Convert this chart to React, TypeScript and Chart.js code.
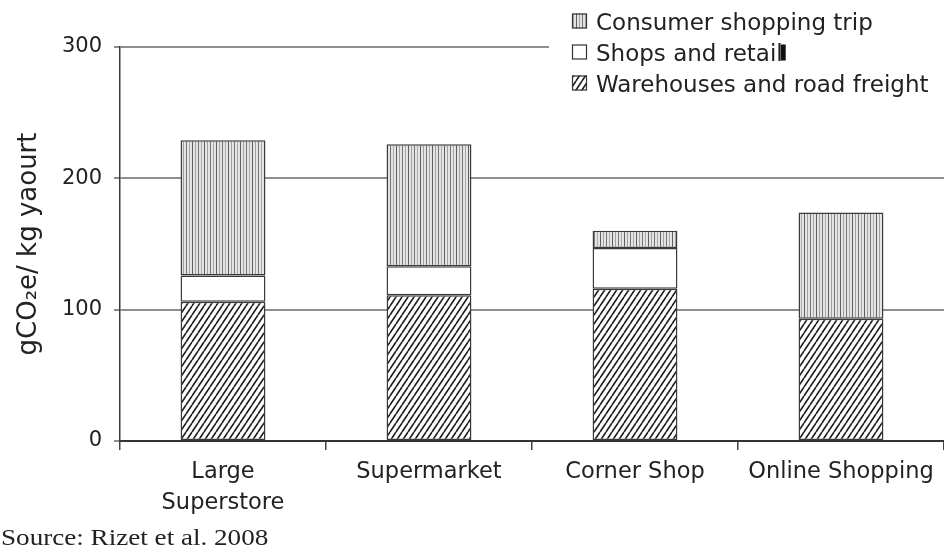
import React, { useEffect, useRef } from 'react';
import { Chart, registerables } from 'chart.js';

Chart.register(...registerables);

const categories: (string | string[])[] = [['Large', 'Superstore'], 'Supermarket', 'Corner Shop', 'Online Shopping'];
const warehouses = [106, 111, 116, 93];
const shops = [20, 22, 31, 0];
const consumer = [103, 93, 13, 81];
const seriesNames = ['Warehouses and road freight', 'Shops and retail', 'Consumer shopping trip'];
const legendOrder = ['Consumer shopping trip', 'Shops and retail', 'Warehouses and road freight'];
const yMin = 0;
const yMax = 300;
const yStep = 100;
const yTitle = 'gCO₂e/ kg yaourt';
const sourceNote = 'Source: Rizet et al. 2008';

const SANS = '"DejaVu Sans", "Liberation Sans", Arial, sans-serif';
const TEXT = '#222222';

function makeDiag(): CanvasPattern {
  const w = 6, h = 9;
  const c = document.createElement('canvas');
  c.width = w; c.height = h;
  const g = c.getContext('2d')!;
  g.fillStyle = '#ffffff';
  g.fillRect(0, 0, w, h);
  g.strokeStyle = '#1c1c1c';
  g.lineWidth = 1.6;
  g.beginPath();
  for (const x0 of [-w, 0, w]) {
    g.moveTo(x0, h);
    g.lineTo(x0 + w, 0);
  }
  g.stroke();
  return g.createPattern(c, 'repeat')!;
}

function makeVert(): CanvasPattern {
  const w = 12, h = 4;
  const c = document.createElement('canvas');
  c.width = w; c.height = h;
  const g = c.getContext('2d')!;
  g.fillStyle = '#e4e4e4';
  g.fillRect(0, 0, w, h);
  const lines: [number, string][] = [[0, '#5e5e5e'], [3, '#a0a0a0'], [6, '#747474'], [9, '#ababab']];
  for (const [x, col] of lines) {
    g.fillStyle = col;
    g.fillRect(x, 0, 1, h);
  }
  return g.createPattern(c, 'repeat')!;
}

export default function App() {
  const ref = useRef<HTMLCanvasElement>(null);

  useEffect(() => {
    const canvas = ref.current!;
    const diag = makeDiag();
    const vert = makeVert();
    const fills: Record<string, CanvasPattern | string> = {
      'Consumer shopping trip': vert,
      'Shops and retail': '#ffffff',
      'Warehouses and road freight': diag,
    };

    const overlay = {
      id: 'overlay',
      afterDraw(chart: any) {
        const ctx: CanvasRenderingContext2D = chart.ctx;
        const W = chart.width;
        ctx.save();
        // legend panel
        ctx.fillStyle = '#ffffff';
        ctx.fillRect(549, 0, W - 549, 104);
        ctx.font = `23px ${SANS}`;
        ctx.textBaseline = 'alphabetic';
        ctx.textAlign = 'left';
        legendOrder.forEach((name, i) => {
          const base = 29.5 + i * 31;
          ctx.fillStyle = fills[name] as any;
          ctx.fillRect(572, base - 16, 15, 15);
          ctx.strokeStyle = '#333333';
          ctx.lineWidth = 1.2;
          ctx.strokeRect(572.5, base - 15.5, 14, 14);
          ctx.fillStyle = TEXT;
          ctx.fillText(name, 596, base);
          if (name === 'Shops and retail') {
            const tw = ctx.measureText(name).width;
            ctx.fillStyle = '#111111';
            ctx.fillRect(596 + tw - 2, base - 16, 5, 16);
          }
        });
        // source note
        ctx.fillStyle = TEXT;
        ctx.font = '22.6px "Liberation Serif", "Times New Roman", serif';
        ctx.translate(1, 545);
        ctx.scale(1.2, 1);
        ctx.fillText(sourceNote, 0, 0);
        ctx.restore();
      },
    };

    const chart = new Chart(canvas, {
      type: 'bar',
      data: {
        labels: categories,
        datasets: [
          { label: seriesNames[0], data: warehouses, backgroundColor: diag as any },
          { label: seriesNames[1], data: shops, backgroundColor: '#ffffff' },
          { label: seriesNames[2], data: consumer, backgroundColor: vert as any },
        ].map((d) => ({
          ...d,
          borderColor: '#3a3a3a',
          borderWidth: 1.5,
          borderSkipped: false,
          barPercentage: 0.412,
          categoryPercentage: 1,
        })),
      },
      options: {
        animation: false,
        responsive: false,
        devicePixelRatio: 1,
        layout: { padding: { top: 47, left: 0, right: 0, bottom: 0 } },
        plugins: {
          legend: { display: false },
          tooltip: { enabled: false },
        },
        scales: {
          x: {
            stacked: true,
            offset: true,
            afterFit(scale: any) { scale.height = 111; },
            grid: {
              display: true,
              drawOnChartArea: false,
              drawTicks: true,
              tickLength: 9,
              tickColor: '#444444',
              tickWidth: 1.5,
              color: '#444444',
              lineWidth: 1.5,
            },
            border: { display: true, color: '#333333', width: 1.5 },
            ticks: {
              color: TEXT,
              font: { family: SANS, size: 22.5, lineHeight: 1.4 },
              padding: 6,
              maxRotation: 0,
              minRotation: 0,
              autoSkip: false,
            },
          },
          y: {
            stacked: true,
            min: yMin,
            max: yMax,
            afterFit(scale: any) { scale.width = 120; },
            grid: {
              color: (c: any) => (c.tick && c.tick.value === 0 ? '#333333' : '#8e8e8e'),
              lineWidth: 2,
              drawTicks: true,
              tickLength: 6,
              tickColor: '#8e8e8e',
            },
            border: { display: true, color: '#3a3a3a', width: 1.5 },
            ticks: {
              stepSize: yStep,
              color: TEXT,
              font: { family: SANS, size: 21 },
              padding: 12,
            },
            title: {
              display: true,
              text: yTitle,
              color: TEXT,
              font: { family: SANS, size: 26 },
              padding: { top: 14, bottom: 0 },
            },
          },
        },
      },
      plugins: [overlay],
    } as any);

    return () => chart.destroy();
  }, []);

  return (
    <div style={{ position: 'absolute', left: 0, top: 0, width: 944, height: 552, background: '#ffffff' }}>
      <canvas ref={ref} width={944} height={552} style={{ display: 'block' }} />
    </div>
  );
}
